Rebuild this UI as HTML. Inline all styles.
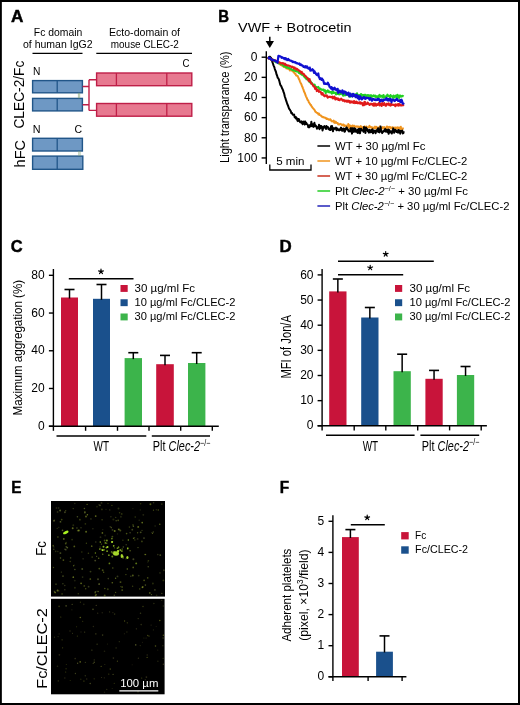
<!DOCTYPE html>
<html><head><meta charset="utf-8"><style>
html,body{margin:0;padding:0;background:#fff;}
svg{display:block;font-family:"Liberation Sans", sans-serif;will-change:transform;}
</style></head><body>
<svg width="520" height="705" viewBox="0 0 520 705">
<rect x="0" y="0" width="520" height="705" fill="#fff"/>
<text x="11" y="22.4" font-size="16.8" text-anchor="start" fill="#000" font-weight="bold" textLength="12.4" lengthAdjust="spacingAndGlyphs" stroke="#000" stroke-width="0.45">A</text>
<text x="218.3" y="22.1" font-size="16.8" text-anchor="start" fill="#000" font-weight="bold" textLength="10.8" lengthAdjust="spacingAndGlyphs" stroke="#000" stroke-width="0.45">B</text>
<text x="10.8" y="251.8" font-size="16.8" text-anchor="start" fill="#000" font-weight="bold" textLength="11.9" lengthAdjust="spacingAndGlyphs" stroke="#000" stroke-width="0.45">C</text>
<text x="279.6" y="251.6" font-size="16.8" text-anchor="start" fill="#000" font-weight="bold" textLength="12.2" lengthAdjust="spacingAndGlyphs" stroke="#000" stroke-width="0.45">D</text>
<text x="11.2" y="492.6" font-size="16.8" text-anchor="start" fill="#000" font-weight="bold" textLength="10.2" lengthAdjust="spacingAndGlyphs" stroke="#000" stroke-width="0.45">E</text>
<text x="279.8" y="493" font-size="16.8" text-anchor="start" fill="#000" font-weight="bold" textLength="9.4" lengthAdjust="spacingAndGlyphs" stroke="#000" stroke-width="0.45">F</text>
<text x="33.8" y="35.7" font-size="10.5" text-anchor="start" fill="#000" textLength="48.5" lengthAdjust="spacingAndGlyphs">Fc domain</text>
<text x="23" y="48.2" font-size="10.5" text-anchor="start" fill="#000" textLength="69.5" lengthAdjust="spacingAndGlyphs">of human IgG2</text>
<line x1="32.5" y1="53.3" x2="82.5" y2="53.3" stroke="#000" stroke-width="1.3"/>
<text x="109" y="36.1" font-size="10.5" text-anchor="start" fill="#000" textLength="71" lengthAdjust="spacingAndGlyphs">Ecto-domain of</text>
<text x="110.8" y="48.1" font-size="10.5" text-anchor="start" fill="#000" textLength="68" lengthAdjust="spacingAndGlyphs">mouse CLEC-2</text>
<line x1="96.3" y1="53.4" x2="192" y2="53.4" stroke="#000" stroke-width="1.3"/>
<text x="182.4" y="67" font-size="10.8" text-anchor="start" fill="#000" textLength="7" lengthAdjust="spacingAndGlyphs">C</text>
<text x="33" y="74.6" font-size="10.8" text-anchor="start" fill="#000" textLength="7.4" lengthAdjust="spacingAndGlyphs">N</text>
<rect x="32.6" y="80.6" width="49.80" height="12.20" fill="#6e98c4" stroke="#215689" stroke-width="1.4"/>
<line x1="57.2" y1="80.6" x2="57.2" y2="92.8" stroke="#215689" stroke-width="1.3"/>
<rect x="32.6" y="98.4" width="49.80" height="12.50" fill="#6e98c4" stroke="#215689" stroke-width="1.4"/>
<line x1="57.2" y1="98.4" x2="57.2" y2="110.9" stroke="#215689" stroke-width="1.3"/>
<line x1="78.4" y1="92.8" x2="78.4" y2="98.3" stroke="#7f9f70" stroke-width="0.6"/>
<line x1="79.7" y1="92.8" x2="79.7" y2="98.3" stroke="#7f9f70" stroke-width="0.6"/>
<path d="M82.6 86.5 H89 M82.6 104.8 H89 M89 79.8 V110.4 M89 79.8 H96 M89 110.4 H96" stroke="#bf1f48" stroke-width="1.4" fill="none"/>
<rect x="96.6" y="73.0" width="95.20" height="12.70" fill="#e77990" stroke="#bf1f48" stroke-width="1.4"/>
<line x1="116.4" y1="73.0" x2="116.4" y2="85.7" stroke="#bf1f48" stroke-width="1.3"/>
<line x1="166.8" y1="73.0" x2="166.8" y2="85.7" stroke="#bf1f48" stroke-width="1.3"/>
<rect x="96.6" y="103.5" width="95.20" height="12.70" fill="#e77990" stroke="#bf1f48" stroke-width="1.4"/>
<line x1="116.4" y1="103.5" x2="116.4" y2="116.2" stroke="#bf1f48" stroke-width="1.3"/>
<line x1="166.8" y1="103.5" x2="166.8" y2="116.2" stroke="#bf1f48" stroke-width="1.3"/>
<text x="32.7" y="132.7" font-size="10.8" text-anchor="start" fill="#000" textLength="7.8" lengthAdjust="spacingAndGlyphs">N</text>
<text x="74.6" y="132.7" font-size="10.8" text-anchor="start" fill="#000" textLength="7.6" lengthAdjust="spacingAndGlyphs">C</text>
<rect x="32.6" y="138.3" width="49.80" height="12.70" fill="#6e98c4" stroke="#215689" stroke-width="1.4"/>
<line x1="57.2" y1="138.3" x2="57.2" y2="151" stroke="#215689" stroke-width="1.3"/>
<rect x="32.6" y="156.1" width="50.20" height="13.20" fill="#6e98c4" stroke="#215689" stroke-width="1.4"/>
<line x1="57.2" y1="156.1" x2="57.2" y2="169.3" stroke="#215689" stroke-width="1.3"/>
<line x1="78.8" y1="151" x2="78.8" y2="156.1" stroke="#7f9f70" stroke-width="0.6"/>
<line x1="80.1" y1="151" x2="80.1" y2="156.1" stroke="#7f9f70" stroke-width="0.6"/>
<text transform="translate(24.3,128.6) rotate(-90)" font-size="14.2" text-anchor="start" fill="#000" textLength="68" lengthAdjust="spacingAndGlyphs">CLEC-2/Fc</text>
<text transform="translate(25,167.4) rotate(-90)" font-size="14.2" text-anchor="start" fill="#000" textLength="27.5" lengthAdjust="spacingAndGlyphs">hFC</text>
<text x="238" y="31.5" font-size="13" text-anchor="start" fill="#000" textLength="113.5" lengthAdjust="spacingAndGlyphs">VWF + Botrocetin</text>
<line x1="269.8" y1="36.8" x2="269.8" y2="42" stroke="#000" stroke-width="1.5"/>
<path d="M265.6 40.9 L274 40.9 L269.8 47.9 Z" fill="#000"/>
<line x1="266.3" y1="51.2" x2="266.3" y2="164" stroke="#000" stroke-width="1.4"/>
<line x1="261.6" y1="57.2" x2="266.3" y2="57.2" stroke="#000" stroke-width="1.4"/>
<text x="257.4" y="61.0" font-size="12" text-anchor="end" fill="#000">0</text>
<line x1="261.6" y1="77.35" x2="266.3" y2="77.35" stroke="#000" stroke-width="1.4"/>
<text x="257.4" y="81.14999999999999" font-size="12" text-anchor="end" fill="#000">20</text>
<line x1="261.6" y1="97.5" x2="266.3" y2="97.5" stroke="#000" stroke-width="1.4"/>
<text x="257.4" y="101.3" font-size="12" text-anchor="end" fill="#000">40</text>
<line x1="261.6" y1="117.65" x2="266.3" y2="117.65" stroke="#000" stroke-width="1.4"/>
<text x="257.4" y="121.45" font-size="12" text-anchor="end" fill="#000">60</text>
<line x1="261.6" y1="137.8" x2="266.3" y2="137.8" stroke="#000" stroke-width="1.4"/>
<text x="257.4" y="141.60000000000002" font-size="12" text-anchor="end" fill="#000">80</text>
<line x1="261.6" y1="157.95" x2="266.3" y2="157.95" stroke="#000" stroke-width="1.4"/>
<text x="257.4" y="161.75" font-size="12" text-anchor="end" fill="#000">100</text>
<text transform="translate(228.5,107.2) rotate(-90)" font-size="12" text-anchor="middle" fill="#000" textLength="111.5" lengthAdjust="spacingAndGlyphs">Light transparance (%)</text>
<path d="M269.8 164.5 V170 H311 V164.5" stroke="#000" stroke-width="1.3" fill="none"/>
<text x="276.2" y="164.6" font-size="11.6" text-anchor="start" fill="#000" textLength="28.3" lengthAdjust="spacingAndGlyphs">5 min</text>
<polyline points="267.80,58.40 268.32,57.66 268.85,58.14 269.38,58.23 269.90,58.60 270.43,58.09 270.95,58.55 271.48,58.61 272.00,58.68 272.50,59.07 273.00,59.48 273.50,59.87 274.00,60.00 274.50,60.72 275.00,60.74 275.50,60.27 276.00,61.90 276.50,61.75 277.00,61.96 277.50,62.58 278.02,62.91 278.54,63.21 279.05,63.28 279.57,63.94 280.09,63.77 280.61,65.01 281.13,64.54 281.65,65.20 282.16,65.61 282.68,66.02 283.20,66.23 283.71,66.71 284.21,65.75 284.72,67.04 285.22,67.29 285.73,67.47 286.23,68.33 286.74,67.85 287.24,68.38 287.75,68.07 288.25,69.03 288.76,68.72 289.26,69.01 289.77,70.46 290.27,70.23 290.78,70.28 291.28,70.61 291.79,70.39 292.29,70.77 292.80,71.49 293.34,71.30 293.89,72.60 294.43,72.57 294.98,73.71 295.52,73.91 296.07,75.36 296.61,75.71 297.16,75.83 297.70,75.99 298.26,77.48 298.82,78.86 299.38,79.74 299.94,81.29 300.50,82.66 301.00,83.54 301.50,84.63 302.00,86.20 302.50,87.07 303.00,88.62 303.50,89.63 304.00,91.59 304.50,92.38 305.00,93.50 305.50,95.22 306.00,96.37 306.56,97.41 307.12,98.80 307.68,100.21 308.24,100.46 308.80,102.25 309.36,103.02 309.91,103.82 310.47,104.91 311.03,105.06 311.59,106.46 312.14,106.99 312.70,107.90 313.24,108.44 313.79,109.05 314.33,109.63 314.87,110.56 315.41,111.72 315.96,112.04 316.50,112.63 317.00,112.88 317.50,112.91 318.00,113.58 318.50,114.39 319.00,113.66 319.50,114.70 320.00,115.12 320.50,115.18 321.00,115.68 321.50,116.23 322.00,116.87 322.50,116.85 323.00,117.31 323.50,117.09 324.00,117.62 324.51,117.55 325.02,117.82 325.53,117.68 326.04,118.42 326.55,119.01 327.05,118.45 327.56,118.86 328.07,119.26 328.58,119.16 329.09,119.86 329.60,119.71 330.11,119.17 330.61,119.48 331.12,120.71 331.62,120.91 332.13,121.43 332.63,121.18 333.14,121.39 333.64,120.54 334.15,122.63 334.65,121.41 335.16,122.92 335.66,121.73 336.17,122.28 336.67,123.07 337.18,122.91 337.68,122.96 338.19,124.33 338.69,124.41 339.20,124.46 339.71,124.04 340.21,123.80 340.72,124.14 341.22,124.21 341.73,124.66 342.23,125.32 342.74,124.76 343.24,124.43 343.75,124.65 344.25,126.09 344.76,125.40 345.26,125.55 345.77,125.68 346.27,126.01 346.78,125.79 347.28,126.62 347.79,126.46 348.29,124.00 348.80,126.00 349.31,128.21 349.82,125.27 350.33,126.29 350.84,127.00 351.35,126.28 351.86,127.26 352.37,125.46 352.88,125.51 353.39,126.30 353.91,125.95 354.42,125.75 354.93,126.94 355.44,126.77 355.95,126.62 356.46,126.37 356.97,126.87 357.48,126.64 357.99,126.25 358.50,127.16 359.00,127.09 359.50,126.91 360.00,127.37 360.50,126.13 361.00,126.83 361.50,126.59 362.00,127.92 362.50,127.37 363.00,128.52 363.50,128.16 364.00,126.83 364.50,126.35 365.00,127.48 365.50,126.97 366.00,127.08 366.50,126.48 367.00,127.67 367.50,127.40 368.00,127.58 368.50,127.53 369.01,126.70 369.51,125.77 370.02,127.17 370.52,126.93 371.03,127.01 371.53,128.07 372.03,127.34 372.54,128.48 373.04,127.57 373.55,127.94 374.05,127.82 374.55,128.05 375.06,126.62 375.56,128.27 376.07,127.60 376.57,126.86 377.08,127.98 377.58,127.81 378.08,128.48 378.59,128.11 379.09,127.87 379.60,126.48 380.10,128.81 380.61,128.69 381.11,128.21 381.61,128.00 382.12,128.55 382.62,127.10 383.13,128.21 383.63,127.75 384.14,127.05 384.64,128.02 385.14,128.03 385.65,128.99 386.15,128.47 386.66,126.70 387.16,126.46 387.66,127.79 388.17,127.72 388.67,127.22 389.18,126.87 389.68,127.77 390.19,127.11 390.69,127.45 391.19,128.55 391.70,128.13 392.20,127.45 392.71,127.20 393.21,127.87 393.72,129.23 394.22,127.68 394.72,129.26 395.23,127.51 395.73,127.93 396.24,128.58 396.74,127.56 397.25,128.16 397.75,127.18 398.25,128.61 398.76,128.97 399.26,127.72 399.77,128.32 400.27,127.92 400.77,126.70 401.28,130.15 401.78,128.68 402.29,128.84 402.79,128.54 403.30,128.41 403.80,128.30" fill="none" stroke="#f0941e" stroke-width="2.0" stroke-linejoin="round"/>
<polyline points="267.80,58.22 268.37,58.05 268.93,57.26 269.50,56.69 270.00,56.81 270.50,57.51 271.20,58.29 271.80,59.80 272.40,62.13 273.00,63.78 273.60,65.62 274.18,66.75 274.76,68.84 275.34,70.53 275.92,71.68 276.50,74.22 277.08,75.49 277.66,77.68 278.24,78.16 278.82,79.38 279.40,81.29 280.00,83.88 280.58,85.32 281.16,85.97 281.74,87.37 282.32,88.85 282.90,89.88 283.53,91.88 284.17,93.63 284.80,96.48 285.43,98.26 286.07,100.45 286.70,102.19 287.28,104.08 287.86,105.16 288.44,106.81 289.02,108.56 289.60,109.27 290.18,110.37 290.76,111.09 291.34,113.28 291.92,112.86 292.50,114.11 293.04,114.80 293.59,114.88 294.13,114.64 294.67,117.17 295.21,116.81 295.76,118.39 296.30,117.41 296.84,118.54 297.39,120.47 297.93,121.09 298.48,118.95 299.02,119.31 299.57,120.99 300.11,122.21 300.66,122.05 301.20,122.63 301.71,121.39 302.21,123.36 302.72,124.19 303.23,122.55 303.73,121.51 304.24,122.51 304.75,124.63 305.25,121.58 305.76,123.92 306.27,122.89 306.77,124.24 307.28,124.27 307.79,124.84 308.29,127.18 308.80,125.81 309.31,127.24 309.82,125.22 310.33,124.84 310.84,126.19 311.35,121.64 311.86,125.81 312.37,126.21 312.88,124.29 313.39,126.87 313.91,125.49 314.42,122.85 314.93,126.22 315.44,125.22 315.95,125.99 316.46,126.64 316.97,128.78 317.48,127.23 317.99,127.15 318.50,127.86 319.00,124.72 319.50,129.19 320.00,125.87 320.50,128.11 321.00,125.88 321.50,126.14 322.00,127.03 322.50,130.40 323.00,128.70 323.50,126.86 324.00,127.37 324.50,126.15 325.00,127.82 325.50,127.08 326.00,129.00 326.50,126.03 327.00,127.55 327.50,126.86 328.00,127.08 328.50,129.20 329.00,128.40 329.50,129.11 330.00,130.02 330.50,130.00 331.00,126.38 331.50,129.19 332.00,125.89 332.50,128.39 333.00,131.30 333.50,128.28 334.00,128.06 334.50,128.88 335.00,128.69 335.50,128.74 336.00,127.64 336.50,130.35 337.00,130.10 337.50,128.54 338.00,129.34 338.50,129.88 339.00,130.46 339.50,129.57 340.00,130.04 340.50,128.69 341.00,127.56 341.50,128.43 342.00,130.66 342.50,130.63 343.00,129.47 343.50,128.47 344.00,129.77 344.50,131.78 345.00,131.36 345.50,128.43 346.00,129.38 346.50,127.37 347.00,127.85 347.50,129.79 348.00,129.58 348.50,130.97 349.00,131.43 349.50,130.83 350.00,131.55 350.50,128.87 351.00,128.05 351.50,130.44 352.00,133.62 352.50,130.28 353.00,128.11 353.50,130.16 354.00,131.90 354.50,128.36 355.00,131.04 355.50,129.02 356.00,131.77 356.50,131.09 357.00,130.42 357.50,132.90 358.00,129.43 358.50,129.05 359.00,132.76 359.50,128.83 360.00,133.31 360.50,130.09 361.00,128.66 361.50,130.19 362.00,130.41 362.50,130.53 363.00,129.99 363.50,131.86 364.00,126.95 364.50,129.53 365.00,129.98 365.50,133.02 366.00,127.52 366.50,129.94 367.00,128.80 367.50,129.52 368.00,131.43 368.50,131.12 369.00,132.64 369.50,129.71 370.00,130.99 370.50,132.31 371.01,131.93 371.51,130.14 372.02,132.27 372.52,129.31 373.03,133.27 373.53,130.89 374.04,130.51 374.54,131.07 375.04,131.92 375.55,133.22 376.05,130.50 376.56,130.18 377.06,131.58 377.57,129.47 378.07,128.28 378.58,131.96 379.08,130.21 379.59,132.40 380.09,129.29 380.59,126.59 381.10,131.21 381.60,131.03 382.11,133.14 382.61,131.59 383.12,131.28 383.62,131.69 384.13,130.32 384.63,130.97 385.13,128.91 385.64,131.63 386.14,129.72 386.65,130.25 387.15,131.92 387.66,132.24 388.16,129.46 388.67,133.84 389.17,130.08 389.67,132.16 390.18,132.34 390.68,131.29 391.19,131.23 391.69,133.59 392.20,132.28 392.70,131.65 393.21,128.37 393.71,129.94 394.21,132.72 394.72,131.32 395.22,129.66 395.73,130.13 396.23,130.62 396.74,132.07 397.24,131.64 397.75,132.54 398.25,129.92 398.76,132.54 399.26,130.39 399.76,130.69 400.27,133.65 400.77,131.25 401.28,130.95 401.78,130.86 402.29,130.62 402.79,133.44 403.30,133.19 403.80,131.20" fill="none" stroke="#000" stroke-width="2.0" stroke-linejoin="round"/>
<polyline points="267.80,57.71 268.32,58.10 268.85,58.09 269.38,58.59 269.90,59.03 270.43,59.14 270.95,59.74 271.48,59.27 272.00,59.82 272.50,59.83 273.00,60.06 273.50,60.48 274.00,60.85 274.50,61.15 275.00,61.43 275.50,62.19 276.00,62.02 276.50,61.53 277.00,62.32 277.50,62.31 278.00,62.60 278.50,63.40 279.00,63.19 279.50,62.92 280.00,63.86 280.50,63.93 281.00,63.91 281.50,64.24 282.00,64.58 282.50,65.02 283.00,65.15 283.50,65.55 284.00,66.33 284.50,65.79 285.00,66.04 285.50,66.46 286.00,67.12 286.50,66.83 287.00,67.73 287.50,67.16 288.00,67.49 288.51,67.99 289.02,67.96 289.53,68.25 290.04,68.78 290.55,69.07 291.06,69.10 291.57,69.19 292.08,69.89 292.59,69.82 293.11,69.83 293.62,70.48 294.13,70.06 294.64,70.59 295.15,70.95 295.66,70.95 296.17,71.00 296.68,71.48 297.19,71.43 297.70,71.62 298.23,71.84 298.77,72.88 299.30,72.67 299.83,73.52 300.37,73.64 300.90,73.78 301.43,74.44 301.97,74.65 302.50,74.95 303.00,74.81 303.50,75.78 304.00,76.54 304.50,76.81 305.00,77.46 305.50,78.12 306.00,78.08 306.50,79.23 307.00,78.03 307.50,79.06 308.00,78.34 308.50,80.56 309.00,80.72 309.50,82.12 310.00,81.55 310.50,81.15 311.00,83.56 311.50,82.57 312.00,83.14 312.53,84.18 313.06,85.06 313.59,84.73 314.11,85.56 314.64,84.58 315.17,87.39 315.70,86.55 316.20,86.85 316.70,87.35 317.20,87.22 317.74,87.53 318.29,86.97 318.83,87.87 319.37,88.59 319.91,89.36 320.46,88.72 321.00,89.17 321.52,89.52 322.04,89.86 322.56,89.73 323.08,89.51 323.60,89.46 324.12,90.92 324.64,90.41 325.16,90.34 325.68,93.26 326.20,91.34 326.72,91.47 327.24,91.06 327.76,90.28 328.28,92.16 328.80,91.33 329.31,91.54 329.83,92.42 330.34,92.51 330.85,91.99 331.37,91.91 331.88,93.68 332.39,92.56 332.91,91.38 333.42,92.90 333.93,92.52 334.45,92.53 334.96,93.15 335.47,92.89 335.99,94.40 336.50,93.06 337.00,93.19 337.50,94.01 338.00,92.71 338.50,94.06 339.00,93.29 339.50,94.38 340.00,92.84 340.50,93.94 341.00,92.42 341.50,93.43 342.00,93.88 342.50,94.35 343.00,95.63 343.50,95.61 344.00,93.15 344.50,93.71 345.00,95.40 345.50,94.78 346.00,93.36 346.50,94.87 347.00,93.61 347.50,93.85 348.00,93.56 348.50,94.39 349.00,96.42 349.50,94.95 350.00,94.59 350.50,96.72 351.00,94.36 351.50,94.64 352.00,94.58 352.50,95.15 353.00,94.60 353.50,96.04 354.00,94.67 354.50,95.38 355.00,95.14 355.50,94.30 356.00,94.23 356.50,95.00 357.00,93.23 357.50,95.11 358.00,95.19 358.50,95.26 359.00,95.12 359.50,95.49 360.00,94.96 360.50,95.77 361.00,93.99 361.50,96.04 362.00,94.64 362.50,95.76 363.00,95.03 363.50,95.11 364.00,94.87 364.50,96.62 365.00,94.73 365.50,94.69 366.00,95.87 366.50,95.96 367.00,95.83 367.50,95.08 368.00,95.38 368.50,96.67 369.00,95.18 369.50,96.54 370.00,96.68 370.50,96.21 371.00,95.14 371.50,97.64 372.01,96.22 372.51,96.29 373.01,95.84 373.51,95.39 374.01,95.94 374.51,96.31 375.01,95.49 375.52,96.26 376.02,97.09 376.52,96.53 377.02,96.11 377.52,97.03 378.02,96.93 378.53,96.92 379.03,95.57 379.53,94.77 380.03,96.86 380.53,96.27 381.03,95.94 381.53,96.63 382.04,95.88 382.54,95.76 383.04,97.70 383.54,95.00 384.04,96.94 384.54,97.08 385.04,97.69 385.55,96.49 386.05,96.70 386.55,95.57 387.05,96.33 387.55,94.64 388.05,95.86 388.56,96.30 389.06,96.24 389.56,95.95 390.06,97.27 390.56,95.08 391.06,96.46 391.56,96.04 392.07,96.39 392.57,96.41 393.07,97.93 393.57,95.53 394.07,97.46 394.57,97.51 395.07,96.30 395.58,95.92 396.08,95.43 396.58,95.73 397.08,98.05 397.58,94.70 398.08,96.80 398.59,95.89 399.09,97.96 399.59,96.71 400.09,95.39 400.59,96.05 401.09,96.63 401.59,96.58 402.10,95.73 402.60,96.26 403.10,96.13 403.60,96.50" fill="none" stroke="#22d022" stroke-width="2.1" stroke-linejoin="round"/>
<polyline points="267.80,57.73 268.32,58.30 268.85,57.87 269.38,58.67 269.90,58.52 270.43,58.75 270.95,59.62 271.48,59.32 272.00,59.49 272.50,59.95 273.00,60.29 273.50,60.17 274.00,60.59 274.50,60.34 275.00,60.75 275.50,60.96 276.00,60.92 276.50,61.09 277.00,61.28 277.50,61.93 278.00,62.11 278.50,62.23 279.00,62.51 279.50,62.25 280.00,62.79 280.50,63.04 281.00,63.36 281.50,63.04 282.00,63.34 282.50,63.01 283.00,63.63 283.50,63.28 284.00,63.68 284.50,64.60 285.00,63.77 285.50,64.83 286.00,64.85 286.50,64.82 287.00,65.21 287.50,65.40 288.00,65.71 288.51,65.55 289.02,65.66 289.53,65.88 290.04,65.99 290.55,66.49 291.06,66.49 291.57,67.27 292.08,66.61 292.59,67.06 293.11,67.32 293.62,67.20 294.13,68.62 294.64,67.55 295.15,68.41 295.66,68.56 296.17,69.43 296.68,68.56 297.19,69.70 297.70,69.38 298.20,69.93 298.70,70.15 299.20,70.92 299.70,70.77 300.20,71.46 300.70,71.97 301.20,72.85 301.70,71.79 302.20,73.53 302.70,73.72 303.20,73.56 303.70,74.24 304.20,74.31 304.74,75.85 305.29,75.90 305.83,76.38 306.37,77.02 306.91,77.69 307.46,78.36 308.00,78.66 308.54,80.81 309.09,79.41 309.63,79.12 310.17,81.66 310.71,82.30 311.26,83.26 311.80,83.58 312.36,84.27 312.91,85.22 313.47,86.29 314.03,86.04 314.59,86.74 315.14,88.96 315.70,88.67 316.24,88.16 316.79,91.09 317.33,90.54 317.87,90.09 318.41,90.19 318.96,91.87 319.50,91.54 320.02,91.69 320.54,91.83 321.07,92.80 321.59,94.42 322.11,93.52 322.63,93.04 323.16,95.07 323.68,94.92 324.20,95.88 324.71,96.35 325.22,95.45 325.73,95.66 326.23,95.93 326.74,95.25 327.25,96.89 327.76,97.64 328.27,96.87 328.77,96.74 329.28,96.91 329.79,96.68 330.30,96.86 330.81,97.29 331.33,97.04 331.84,97.47 332.35,96.66 332.87,98.31 333.38,98.18 333.89,97.32 334.41,96.51 334.92,98.45 335.43,99.45 335.95,98.09 336.46,98.39 336.97,98.43 337.49,99.52 338.00,98.37 338.53,100.01 339.06,99.10 339.59,100.20 340.11,99.61 340.64,99.52 341.17,98.65 341.70,99.40 342.23,99.86 342.76,100.72 343.29,100.51 343.81,99.88 344.34,100.88 344.87,101.47 345.40,100.68 345.91,100.55 346.41,100.68 346.92,101.75 347.43,101.63 347.93,100.56 348.44,101.70 348.95,101.12 349.45,101.00 349.96,102.69 350.47,102.46 350.97,101.32 351.48,102.06 351.99,102.50 352.49,101.69 353.00,102.20 353.52,102.89 354.04,100.98 354.56,102.72 355.08,103.10 355.60,102.97 356.12,101.55 356.64,102.93 357.16,102.04 357.68,103.24 358.20,103.32 358.72,103.06 359.24,102.33 359.76,102.52 360.28,103.73 360.80,102.38 361.31,103.57 361.83,103.66 362.34,103.10 362.85,105.31 363.37,103.52 363.88,105.26 364.39,102.00 364.91,101.89 365.42,104.55 365.93,104.34 366.45,103.66 366.96,103.94 367.47,102.53 367.99,103.62 368.50,103.37 369.00,104.03 369.51,104.93 370.01,104.27 370.52,104.53 371.02,103.68 371.53,103.90 372.03,104.35 372.53,104.04 373.04,105.29 373.54,103.59 374.05,105.81 374.55,103.52 375.06,105.16 375.56,103.70 376.06,105.65 376.57,104.45 377.07,104.66 377.58,104.95 378.08,103.85 378.59,103.54 379.09,102.76 379.59,105.36 380.10,103.84 380.60,103.93 381.11,104.39 381.61,106.01 382.12,103.05 382.62,104.64 383.12,104.13 383.63,104.88 384.13,103.03 384.64,104.16 385.14,105.16 385.65,105.74 386.15,105.78 386.65,103.82 387.16,104.56 387.66,104.44 388.17,103.43 388.67,103.39 389.18,105.16 389.68,104.76 390.18,104.45 390.69,105.55 391.19,103.78 391.70,105.02 392.20,104.61 392.71,104.56 393.21,105.01 393.71,104.77 394.22,104.85 394.72,104.86 395.23,106.21 395.73,104.41 396.24,105.48 396.74,105.17 397.24,104.41 397.75,105.33 398.25,104.02 398.76,105.64 399.26,104.08 399.77,104.34 400.27,105.00 400.77,105.41 401.28,105.48 401.78,105.48 402.29,104.61 402.79,104.02 403.30,105.23 403.80,104.80" fill="none" stroke="#e01a1a" stroke-width="2.1" stroke-linejoin="round"/>
<polyline points="267.80,57.29 268.32,57.53 268.84,58.40 269.37,57.60 269.89,58.58 270.41,58.08 270.93,59.49 271.46,59.40 271.98,60.04 272.50,59.62 273.00,60.16 273.50,60.14 274.00,60.20 274.50,60.73 275.00,60.46 275.50,61.00 276.00,61.58 276.50,61.58 277.00,61.64 277.50,62.77 278.40,55.82 278.93,55.81 279.47,56.28 280.00,56.25 280.53,56.51 281.07,56.73 281.60,57.78 282.13,57.29 282.67,57.55 283.20,57.94 283.71,58.61 284.21,58.02 284.72,58.08 285.22,59.37 285.73,58.19 286.23,58.77 286.74,59.33 287.24,60.10 287.75,59.17 288.25,58.85 288.76,60.13 289.26,59.92 289.77,60.16 290.27,60.66 290.78,60.78 291.28,61.00 291.79,60.95 292.29,61.75 292.80,62.03 293.31,61.72 293.82,61.75 294.33,62.37 294.84,62.49 295.35,62.16 295.86,62.57 296.37,63.30 296.88,63.11 297.39,63.23 297.91,63.63 298.42,63.75 298.93,63.96 299.44,63.49 299.95,64.99 300.46,64.65 300.97,64.45 301.48,65.37 301.99,65.32 302.50,65.41 303.02,66.07 303.54,66.85 304.05,66.31 304.57,67.03 305.09,67.55 305.61,66.19 306.13,66.66 306.65,67.56 307.16,66.43 307.68,67.43 308.20,68.54 308.73,68.74 309.25,68.80 309.78,67.61 310.31,70.60 310.84,69.79 311.36,70.27 311.89,70.43 312.42,69.23 312.95,69.73 313.47,70.20 314.00,72.81 314.53,71.37 315.07,72.40 315.60,72.98 316.13,74.22 316.67,74.76 317.20,75.17 317.73,74.48 318.27,73.46 318.80,76.87 319.33,77.55 319.87,79.01 320.40,78.41 320.93,78.44 321.47,79.85 322.00,78.57 322.53,79.52 323.07,80.04 323.60,81.69 324.13,83.80 324.67,83.10 325.20,83.93 325.73,83.51 326.27,83.95 326.80,83.70 327.33,84.25 327.87,82.71 328.40,84.22 328.93,84.54 329.47,86.85 330.00,87.10 330.51,87.81 331.03,88.47 331.54,87.09 332.05,88.60 332.57,89.69 333.08,88.21 333.59,89.48 334.11,88.64 334.62,87.63 335.13,89.47 335.65,88.91 336.16,90.04 336.67,89.81 337.19,90.80 337.70,88.88 338.21,92.83 338.73,92.33 339.24,90.94 339.75,90.60 340.27,91.57 340.78,92.33 341.29,92.25 341.81,92.39 342.32,90.41 342.83,91.32 343.35,93.70 343.86,92.86 344.37,91.42 344.89,92.17 345.40,91.80 345.91,92.33 346.41,94.47 346.92,93.36 347.43,94.73 347.93,94.04 348.44,92.65 348.95,93.58 349.45,96.42 349.96,93.78 350.47,93.67 350.97,95.92 351.48,95.02 351.99,95.09 352.49,96.59 353.00,93.79 353.52,95.94 354.04,94.74 354.56,94.57 355.08,95.27 355.60,97.22 356.12,96.19 356.64,94.79 357.16,95.61 357.68,98.18 358.20,97.87 358.72,96.08 359.24,99.47 359.76,97.06 360.28,96.45 360.80,97.57 361.31,98.66 361.83,99.38 362.34,98.95 362.85,97.71 363.37,97.68 363.88,96.96 364.39,98.33 364.91,97.95 365.42,98.83 365.93,97.53 366.45,98.32 366.96,98.09 367.47,97.89 367.99,98.01 368.50,98.26 369.00,98.14 369.50,99.77 370.00,99.36 370.50,98.08 371.00,99.79 371.50,99.61 372.00,100.71 372.50,99.21 373.00,99.23 373.50,98.81 374.00,99.58 374.50,99.95 375.00,99.68 375.50,99.31 376.00,100.08 376.50,99.67 377.00,99.84 377.50,98.78 378.00,99.85 378.50,98.77 379.00,98.93 379.50,99.88 380.00,101.70 380.50,100.70 381.00,99.81 381.50,99.67 382.00,100.76 382.50,101.15 383.00,101.03 383.50,99.76 384.00,100.13 384.50,99.67 385.00,99.74 385.50,99.22 386.00,99.79 386.50,98.05 387.00,98.93 387.50,100.44 388.00,99.20 388.50,100.56 389.00,98.88 389.50,99.74 390.00,100.46 390.50,99.14 391.00,99.45 391.50,102.39 392.00,99.50 392.50,99.49 393.00,99.62 393.50,100.19 394.00,100.14 394.50,101.08 395.00,100.91 395.50,99.82 396.00,99.87 396.50,98.91 397.00,98.84 397.50,99.55 398.00,100.91 398.50,100.36 399.00,100.99 399.50,101.13 400.00,100.12 400.50,102.22 401.00,99.81 401.50,99.72 402.07,100.95 402.65,103.45 403.23,103.32 403.80,104.50" fill="none" stroke="#1010d0" stroke-width="2.2" stroke-linejoin="round"/>
<line x1="317.4" y1="146.0" x2="330.1" y2="146.0" stroke="#000" stroke-width="1.5"/>
<text x="335" y="149.6" font-size="11" text-anchor="start" fill="#000" textLength="90.5" lengthAdjust="spacingAndGlyphs">WT + 30 µg/ml Fc</text>
<line x1="317.4" y1="161.0" x2="330.1" y2="161.0" stroke="#f0941e" stroke-width="1.5"/>
<text x="335" y="164.6" font-size="11" text-anchor="start" fill="#000" textLength="132.3" lengthAdjust="spacingAndGlyphs">WT + 10 µg/ml Fc/CLEC-2</text>
<line x1="317.4" y1="176.0" x2="330.1" y2="176.0" stroke="#c8301e" stroke-width="1.5"/>
<text x="335" y="179.6" font-size="11" text-anchor="start" fill="#000" textLength="132.3" lengthAdjust="spacingAndGlyphs">WT + 30 µg/ml Fc/CLEC-2</text>
<line x1="317.4" y1="191.0" x2="330.1" y2="191.0" stroke="#22cc22" stroke-width="1.5"/>
<text x="335" y="194.6" font-size="11" text-anchor="start" fill="#000" textLength="133" lengthAdjust="spacingAndGlyphs">Plt <tspan font-style="italic">Clec-2</tspan><tspan font-size="7" dy="-4">−/−</tspan><tspan dy="4"> + 30 µg/ml Fc</tspan></text>
<line x1="317.4" y1="206.0" x2="330.1" y2="206.0" stroke="#2424b8" stroke-width="1.5"/>
<text x="335" y="209.6" font-size="11" text-anchor="start" fill="#000" textLength="174.5" lengthAdjust="spacingAndGlyphs">Plt <tspan font-style="italic">Clec-2</tspan><tspan font-size="7" dy="-4">−/−</tspan><tspan dy="4"> + 30 µg/ml Fc/CLEC-2</tspan></text>
<line x1="53.4" y1="269" x2="53.4" y2="430.8" stroke="#000" stroke-width="1.4"/>
<line x1="48.9" y1="426.2" x2="53.4" y2="426.2" stroke="#000" stroke-width="1.4"/>
<text x="44.7" y="429.8" font-size="12" text-anchor="end" fill="#000">0</text>
<line x1="48.9" y1="388.48" x2="53.4" y2="388.48" stroke="#000" stroke-width="1.4"/>
<text x="44.7" y="392.08000000000004" font-size="12" text-anchor="end" fill="#000">20</text>
<line x1="48.9" y1="350.76" x2="53.4" y2="350.76" stroke="#000" stroke-width="1.4"/>
<text x="44.7" y="354.36" font-size="12" text-anchor="end" fill="#000">40</text>
<line x1="48.9" y1="313.03999999999996" x2="53.4" y2="313.03999999999996" stroke="#000" stroke-width="1.4"/>
<text x="44.7" y="316.64" font-size="12" text-anchor="end" fill="#000">60</text>
<line x1="48.9" y1="275.32" x2="53.4" y2="275.32" stroke="#000" stroke-width="1.4"/>
<text x="44.7" y="278.92" font-size="12" text-anchor="end" fill="#000">80</text>
<rect x="61" y="297.5" width="17.00" height="128.70" fill="#c8143a"/>
<line x1="69.5" y1="289.5" x2="69.5" y2="298.5" stroke="#000" stroke-width="1.5"/>
<line x1="64.5" y1="289.5" x2="74.5" y2="289.5" stroke="#000" stroke-width="1.6"/>
<rect x="93" y="298.8" width="17.00" height="127.40" fill="#1a508c"/>
<line x1="101.5" y1="284.5" x2="101.5" y2="299.8" stroke="#000" stroke-width="1.5"/>
<line x1="96.5" y1="284.5" x2="106.5" y2="284.5" stroke="#000" stroke-width="1.6"/>
<rect x="124.6" y="358.1" width="17.40" height="68.10" fill="#3cb44b"/>
<line x1="133.3" y1="352.7" x2="133.3" y2="359.1" stroke="#000" stroke-width="1.5"/>
<line x1="128.3" y1="352.7" x2="138.3" y2="352.7" stroke="#000" stroke-width="1.6"/>
<rect x="156.2" y="364.2" width="17.60" height="62.00" fill="#c8143a"/>
<line x1="165.0" y1="355.4" x2="165.0" y2="365.2" stroke="#000" stroke-width="1.5"/>
<line x1="160.0" y1="355.4" x2="170.0" y2="355.4" stroke="#000" stroke-width="1.6"/>
<rect x="188" y="363" width="17.40" height="63.20" fill="#3cb44b"/>
<line x1="196.7" y1="352.7" x2="196.7" y2="364" stroke="#000" stroke-width="1.5"/>
<line x1="191.7" y1="352.7" x2="201.7" y2="352.7" stroke="#000" stroke-width="1.6"/>
<line x1="48.9" y1="426.2" x2="218.8" y2="426.2" stroke="#000" stroke-width="1.4"/>
<line x1="85.6" y1="426.2" x2="85.6" y2="430.8" stroke="#000" stroke-width="1.4"/>
<line x1="117.5" y1="426.2" x2="117.5" y2="430.8" stroke="#000" stroke-width="1.4"/>
<line x1="149" y1="426.2" x2="149" y2="430.8" stroke="#000" stroke-width="1.4"/>
<line x1="180.7" y1="426.2" x2="180.7" y2="430.8" stroke="#000" stroke-width="1.4"/>
<line x1="212.3" y1="426.2" x2="212.3" y2="430.8" stroke="#000" stroke-width="1.4"/>
<line x1="68.8" y1="278.7" x2="133.5" y2="278.7" stroke="#000" stroke-width="1.5"/>
<path d="M101.00 271.60 L101.00 269.10 M101.00 271.60 L103.38 270.83 M101.00 271.60 L102.47 273.62 M101.00 271.60 L99.53 273.62 M101.00 271.60 L98.62 270.83 " stroke="#000" stroke-width="1.15" stroke-linecap="round" fill="none"/>
<circle cx="101" cy="271.59999999999997" r="0.95" fill="#000"/>
<rect x="120.5" y="285.0" width="7.20" height="6.90" fill="#c8143a"/>
<text x="134.5" y="291.6" font-size="11.2" text-anchor="start" fill="#000" textLength="60.5" lengthAdjust="spacingAndGlyphs">30 µg/ml Fc</text>
<rect x="120.5" y="299.25" width="7.20" height="6.90" fill="#1a508c"/>
<text x="134.5" y="305.85" font-size="11.2" text-anchor="start" fill="#000" textLength="101" lengthAdjust="spacingAndGlyphs">10 µg/ml Fc/CLEC-2</text>
<rect x="120.5" y="313.5" width="7.20" height="6.90" fill="#3cb44b"/>
<text x="134.5" y="320.1" font-size="11.2" text-anchor="start" fill="#000" textLength="101" lengthAdjust="spacingAndGlyphs">30 µg/ml Fc/CLEC-2</text>
<line x1="56.5" y1="435.9" x2="146.3" y2="435.9" stroke="#000" stroke-width="1.5"/>
<line x1="151.8" y1="435.9" x2="210" y2="435.9" stroke="#000" stroke-width="1.5"/>
<text x="93.6" y="451.1" font-size="14" text-anchor="start" fill="#000" textLength="15.4" lengthAdjust="spacingAndGlyphs">WT</text>
<text x="152.8" y="451.1" font-size="13.8" text-anchor="start" fill="#000" textLength="57.5" lengthAdjust="spacingAndGlyphs">Plt <tspan font-style="italic">Clec-2</tspan><tspan font-size="9" dy="-5.5">−/−</tspan></text>
<text transform="translate(22.3,347.7) rotate(-90)" font-size="13.5" text-anchor="middle" fill="#000" textLength="135.5" lengthAdjust="spacingAndGlyphs">Maximum aggregation (%)</text>
<line x1="322.1" y1="269" x2="322.1" y2="430.40000000000003" stroke="#000" stroke-width="1.4"/>
<line x1="317.6" y1="425.8" x2="322.1" y2="425.8" stroke="#000" stroke-width="1.4"/>
<text x="313.5" y="429.40000000000003" font-size="12" text-anchor="end" fill="#000">0</text>
<line x1="317.6" y1="400.65000000000003" x2="322.1" y2="400.65000000000003" stroke="#000" stroke-width="1.4"/>
<text x="313.5" y="404.25000000000006" font-size="12" text-anchor="end" fill="#000">10</text>
<line x1="317.6" y1="375.5" x2="322.1" y2="375.5" stroke="#000" stroke-width="1.4"/>
<text x="313.5" y="379.1" font-size="12" text-anchor="end" fill="#000">20</text>
<line x1="317.6" y1="350.35" x2="322.1" y2="350.35" stroke="#000" stroke-width="1.4"/>
<text x="313.5" y="353.95000000000005" font-size="12" text-anchor="end" fill="#000">30</text>
<line x1="317.6" y1="325.2" x2="322.1" y2="325.2" stroke="#000" stroke-width="1.4"/>
<text x="313.5" y="328.8" font-size="12" text-anchor="end" fill="#000">40</text>
<line x1="317.6" y1="300.05" x2="322.1" y2="300.05" stroke="#000" stroke-width="1.4"/>
<text x="313.5" y="303.65000000000003" font-size="12" text-anchor="end" fill="#000">50</text>
<line x1="317.6" y1="274.9" x2="322.1" y2="274.9" stroke="#000" stroke-width="1.4"/>
<text x="313.5" y="278.5" font-size="12" text-anchor="end" fill="#000">60</text>
<rect x="329.2" y="291.4" width="17.30" height="134.40" fill="#c8143a"/>
<line x1="337.85" y1="279" x2="337.85" y2="292.4" stroke="#000" stroke-width="1.5"/>
<line x1="332.85" y1="279" x2="342.85" y2="279" stroke="#000" stroke-width="1.6"/>
<rect x="361.2" y="317.5" width="17.30" height="108.30" fill="#1a508c"/>
<line x1="369.85" y1="307.5" x2="369.85" y2="318.5" stroke="#000" stroke-width="1.5"/>
<line x1="364.85" y1="307.5" x2="374.85" y2="307.5" stroke="#000" stroke-width="1.6"/>
<rect x="393.5" y="371.2" width="17.30" height="54.60" fill="#3cb44b"/>
<line x1="402.15" y1="354.2" x2="402.15" y2="372.2" stroke="#000" stroke-width="1.5"/>
<line x1="397.15" y1="354.2" x2="407.15" y2="354.2" stroke="#000" stroke-width="1.6"/>
<rect x="425.4" y="378.8" width="17.30" height="47.00" fill="#c8143a"/>
<line x1="434.04999999999995" y1="370.4" x2="434.04999999999995" y2="379.8" stroke="#000" stroke-width="1.5"/>
<line x1="429.04999999999995" y1="370.4" x2="439.04999999999995" y2="370.4" stroke="#000" stroke-width="1.6"/>
<rect x="456.9" y="375" width="17.30" height="50.80" fill="#3cb44b"/>
<line x1="465.54999999999995" y1="366.5" x2="465.54999999999995" y2="376" stroke="#000" stroke-width="1.5"/>
<line x1="460.54999999999995" y1="366.5" x2="470.54999999999995" y2="366.5" stroke="#000" stroke-width="1.6"/>
<line x1="317.6" y1="425.8" x2="486.9" y2="425.8" stroke="#000" stroke-width="1.4"/>
<line x1="354.2" y1="425.8" x2="354.2" y2="430.40000000000003" stroke="#000" stroke-width="1.4"/>
<line x1="385.8" y1="425.8" x2="385.8" y2="430.40000000000003" stroke="#000" stroke-width="1.4"/>
<line x1="417.7" y1="425.8" x2="417.7" y2="430.40000000000003" stroke="#000" stroke-width="1.4"/>
<line x1="449.6" y1="425.8" x2="449.6" y2="430.40000000000003" stroke="#000" stroke-width="1.4"/>
<line x1="481.2" y1="425.8" x2="481.2" y2="430.40000000000003" stroke="#000" stroke-width="1.4"/>
<line x1="338" y1="261.2" x2="433.8" y2="261.2" stroke="#000" stroke-width="1.5"/>
<path d="M385.70 254.10 L385.70 251.60 M385.70 254.10 L388.08 253.33 M385.70 254.10 L387.17 256.12 M385.70 254.10 L384.23 256.12 M385.70 254.10 L383.32 253.33 " stroke="#000" stroke-width="1.15" stroke-linecap="round" fill="none"/>
<circle cx="385.7" cy="254.1" r="0.95" fill="#000"/>
<line x1="338" y1="274.8" x2="403.2" y2="274.8" stroke="#000" stroke-width="1.5"/>
<path d="M370.20 267.70 L370.20 265.20 M370.20 267.70 L372.58 266.93 M370.20 267.70 L371.67 269.72 M370.20 267.70 L368.73 269.72 M370.20 267.70 L367.82 266.93 " stroke="#000" stroke-width="1.15" stroke-linecap="round" fill="none"/>
<circle cx="370.2" cy="267.7" r="0.95" fill="#000"/>
<rect x="395" y="285.0" width="7.20" height="6.90" fill="#c8143a"/>
<text x="409.5" y="291.6" font-size="11.2" text-anchor="start" fill="#000" textLength="60.5" lengthAdjust="spacingAndGlyphs">30 µg/ml Fc</text>
<rect x="395" y="299.25" width="7.20" height="6.90" fill="#1a508c"/>
<text x="409.5" y="305.85" font-size="11.2" text-anchor="start" fill="#000" textLength="101" lengthAdjust="spacingAndGlyphs">10 µg/ml Fc/CLEC-2</text>
<rect x="395" y="313.5" width="7.20" height="6.90" fill="#3cb44b"/>
<text x="409.5" y="320.1" font-size="11.2" text-anchor="start" fill="#000" textLength="101" lengthAdjust="spacingAndGlyphs">30 µg/ml Fc/CLEC-2</text>
<line x1="326" y1="435.3" x2="414.6" y2="435.3" stroke="#000" stroke-width="1.5"/>
<line x1="420.4" y1="435.3" x2="479.2" y2="435.3" stroke="#000" stroke-width="1.5"/>
<text x="362.7" y="450.6" font-size="14" text-anchor="start" fill="#000" textLength="15.4" lengthAdjust="spacingAndGlyphs">WT</text>
<text x="421.8" y="450.6" font-size="13.8" text-anchor="start" fill="#000" textLength="57.5" lengthAdjust="spacingAndGlyphs">Plt <tspan font-style="italic">Clec-2</tspan><tspan font-size="9" dy="-5.5">−/−</tspan></text>
<text transform="translate(290.9,346.8) rotate(-90)" font-size="14" text-anchor="middle" fill="#000" textLength="63.5" lengthAdjust="spacingAndGlyphs">MFI of Jon/A</text>
<rect x="51" y="501" width="114.00" height="95.60" fill="#000"/>
<rect x="51" y="598.8" width="113.60" height="95.50" fill="#000"/>
<circle cx="102.7" cy="554.3" r="0.78" fill="#b0c838" opacity="0.54"/>
<circle cx="73.3" cy="577.2" r="0.85" fill="#b0c838" opacity="0.52"/>
<circle cx="62.5" cy="530.4" r="0.82" fill="#8a9a40" opacity="0.56"/>
<circle cx="123.1" cy="557.7" r="0.99" fill="#b0c838" opacity="0.46"/>
<circle cx="120.9" cy="516.7" r="0.93" fill="#8a9a40" opacity="0.23"/>
<circle cx="56.0" cy="584.2" r="0.91" fill="#8a9a40" opacity="0.33"/>
<circle cx="118.2" cy="520.3" r="0.86" fill="#a0b030" opacity="0.40"/>
<circle cx="126.2" cy="544.8" r="0.76" fill="#7a8040" opacity="0.42"/>
<circle cx="156.3" cy="509.8" r="0.73" fill="#7a8040" opacity="0.29"/>
<circle cx="84.4" cy="508.6" r="0.76" fill="#8a9a40" opacity="0.54"/>
<circle cx="95.3" cy="591.6" r="0.69" fill="#8a9a40" opacity="0.57"/>
<circle cx="57.9" cy="537.1" r="0.77" fill="#b0c838" opacity="0.43"/>
<circle cx="74.2" cy="565.1" r="0.63" fill="#7a8040" opacity="0.33"/>
<circle cx="160.0" cy="572.9" r="0.65" fill="#8a9a40" opacity="0.48"/>
<circle cx="53.2" cy="545.5" r="0.67" fill="#b0c838" opacity="0.42"/>
<circle cx="102.1" cy="519.8" r="0.77" fill="#a0b030" opacity="0.35"/>
<circle cx="96.2" cy="594.6" r="0.71" fill="#8a9a40" opacity="0.59"/>
<circle cx="142.0" cy="530.4" r="0.68" fill="#8a9a40" opacity="0.36"/>
<circle cx="147.7" cy="562.0" r="0.62" fill="#8a9a40" opacity="0.26"/>
<circle cx="101.5" cy="502.9" r="0.93" fill="#7a8040" opacity="0.35"/>
<circle cx="60.3" cy="521.5" r="0.61" fill="#a0b030" opacity="0.35"/>
<circle cx="121.7" cy="513.9" r="0.93" fill="#b0c838" opacity="0.25"/>
<circle cx="95.2" cy="560.6" r="0.96" fill="#7a8040" opacity="0.53"/>
<circle cx="79.9" cy="519.7" r="0.87" fill="#a0b030" opacity="0.36"/>
<circle cx="106.0" cy="509.3" r="0.64" fill="#8a9a40" opacity="0.22"/>
<circle cx="159.8" cy="524.3" r="0.70" fill="#b0c838" opacity="0.53"/>
<circle cx="118.8" cy="529.4" r="0.97" fill="#a0b030" opacity="0.59"/>
<circle cx="66.2" cy="546.8" r="0.71" fill="#8a9a40" opacity="0.57"/>
<circle cx="74.8" cy="503.5" r="0.76" fill="#7a8040" opacity="0.30"/>
<circle cx="57.2" cy="528.4" r="0.64" fill="#a0b030" opacity="0.26"/>
<circle cx="102.4" cy="532.9" r="0.84" fill="#a0b030" opacity="0.57"/>
<circle cx="105.2" cy="535.4" r="0.99" fill="#7a8040" opacity="0.21"/>
<circle cx="123.3" cy="547.1" r="0.73" fill="#7a8040" opacity="0.60"/>
<circle cx="60.4" cy="553.1" r="0.96" fill="#8a9a40" opacity="0.49"/>
<circle cx="130.8" cy="576.2" r="0.74" fill="#7a8040" opacity="0.47"/>
<circle cx="152.9" cy="583.4" r="0.98" fill="#b0c838" opacity="0.21"/>
<circle cx="108.0" cy="503.4" r="0.75" fill="#b0c838" opacity="0.20"/>
<circle cx="60.1" cy="510.5" r="1.00" fill="#8a9a40" opacity="0.55"/>
<circle cx="133.6" cy="538.3" r="0.78" fill="#b0c838" opacity="0.54"/>
<circle cx="61.4" cy="572.1" r="0.72" fill="#8a9a40" opacity="0.24"/>
<circle cx="54.5" cy="591.5" r="0.80" fill="#8a9a40" opacity="0.45"/>
<circle cx="155.1" cy="525.9" r="0.75" fill="#8a9a40" opacity="0.26"/>
<circle cx="120.5" cy="550.5" r="0.86" fill="#7a8040" opacity="0.38"/>
<circle cx="151.9" cy="532.6" r="0.68" fill="#7a8040" opacity="0.37"/>
<circle cx="142.3" cy="587.5" r="0.75" fill="#a0b030" opacity="0.43"/>
<circle cx="87.4" cy="514.7" r="0.74" fill="#b0c838" opacity="0.56"/>
<circle cx="56.5" cy="508.0" r="0.93" fill="#7a8040" opacity="0.25"/>
<circle cx="104.8" cy="588.6" r="0.75" fill="#b0c838" opacity="0.41"/>
<circle cx="127.3" cy="569.0" r="0.73" fill="#b0c838" opacity="0.53"/>
<circle cx="83.1" cy="558.8" r="0.83" fill="#7a8040" opacity="0.32"/>
<circle cx="140.6" cy="503.8" r="0.76" fill="#a0b030" opacity="0.28"/>
<circle cx="138.2" cy="526.9" r="0.92" fill="#a0b030" opacity="0.59"/>
<circle cx="64.9" cy="512.2" r="0.98" fill="#7a8040" opacity="0.47"/>
<circle cx="74.3" cy="546.4" r="0.89" fill="#a0b030" opacity="0.50"/>
<circle cx="111.9" cy="505.4" r="0.71" fill="#a0b030" opacity="0.34"/>
<circle cx="130.1" cy="550.7" r="0.76" fill="#a0b030" opacity="0.52"/>
<circle cx="153.5" cy="510.2" r="0.65" fill="#b0c838" opacity="0.38"/>
<circle cx="122.1" cy="587.1" r="0.82" fill="#b0c838" opacity="0.46"/>
<circle cx="108.3" cy="578.6" r="0.79" fill="#7a8040" opacity="0.46"/>
<circle cx="74.9" cy="569.5" r="0.69" fill="#8a9a40" opacity="0.56"/>
<circle cx="161.8" cy="593.4" r="0.70" fill="#7a8040" opacity="0.49"/>
<circle cx="53.8" cy="549.2" r="0.78" fill="#8a9a40" opacity="0.42"/>
<circle cx="138.0" cy="547.6" r="0.69" fill="#8a9a40" opacity="0.55"/>
<circle cx="100.0" cy="505.3" r="0.87" fill="#7a8040" opacity="0.57"/>
<circle cx="104.7" cy="595.5" r="0.98" fill="#b0c838" opacity="0.40"/>
<circle cx="158.3" cy="510.0" r="0.78" fill="#a0b030" opacity="0.42"/>
<circle cx="145.1" cy="554.5" r="0.81" fill="#a0b030" opacity="0.54"/>
<circle cx="114.7" cy="531.1" r="0.98" fill="#b0c838" opacity="0.55"/>
<circle cx="120.3" cy="530.5" r="0.99" fill="#a0b030" opacity="0.41"/>
<circle cx="116.2" cy="520.8" r="0.80" fill="#8a9a40" opacity="0.44"/>
<circle cx="55.1" cy="592.6" r="0.82" fill="#b0c838" opacity="0.60"/>
<circle cx="65.7" cy="510.7" r="0.63" fill="#a0b030" opacity="0.42"/>
<circle cx="98.3" cy="591.5" r="0.71" fill="#b0c838" opacity="0.39"/>
<circle cx="66.2" cy="542.5" r="0.81" fill="#b0c838" opacity="0.24"/>
<circle cx="99.0" cy="504.8" r="0.65" fill="#7a8040" opacity="0.51"/>
<circle cx="54.6" cy="520.1" r="0.60" fill="#a0b030" opacity="0.31"/>
<circle cx="133.0" cy="524.9" r="0.64" fill="#b0c838" opacity="0.49"/>
<circle cx="65.8" cy="549.7" r="0.89" fill="#7a8040" opacity="0.48"/>
<circle cx="150.4" cy="504.2" r="0.93" fill="#b0c838" opacity="0.45"/>
<circle cx="112.3" cy="582.8" r="0.81" fill="#a0b030" opacity="0.54"/>
<circle cx="120.5" cy="582.1" r="0.97" fill="#a0b030" opacity="0.45"/>
<circle cx="90.9" cy="518.9" r="0.96" fill="#7a8040" opacity="0.28"/>
<circle cx="139.2" cy="520.2" r="0.65" fill="#8a9a40" opacity="0.30"/>
<circle cx="133.4" cy="526.3" r="0.77" fill="#8a9a40" opacity="0.58"/>
<circle cx="112.8" cy="567.9" r="0.76" fill="#a0b030" opacity="0.47"/>
<circle cx="54.0" cy="520.8" r="0.96" fill="#7a8040" opacity="0.59"/>
<circle cx="64.9" cy="549.3" r="0.80" fill="#7a8040" opacity="0.47"/>
<circle cx="73.2" cy="508.6" r="0.61" fill="#8a9a40" opacity="0.50"/>
<circle cx="120.7" cy="586.6" r="0.66" fill="#b0c838" opacity="0.27"/>
<circle cx="74.8" cy="580.6" r="0.97" fill="#7a8040" opacity="0.24"/>
<circle cx="58.9" cy="591.0" r="0.63" fill="#b0c838" opacity="0.24"/>
<circle cx="95.8" cy="541.9" r="0.77" fill="#7a8040" opacity="0.44"/>
<circle cx="53.5" cy="567.5" r="0.67" fill="#a0b030" opacity="0.38"/>
<circle cx="134.8" cy="539.9" r="0.84" fill="#a0b030" opacity="0.24"/>
<circle cx="140.7" cy="532.3" r="0.92" fill="#8a9a40" opacity="0.48"/>
<circle cx="148.4" cy="560.8" r="0.83" fill="#b0c838" opacity="0.28"/>
<circle cx="117.5" cy="533.9" r="0.71" fill="#7a8040" opacity="0.25"/>
<circle cx="135.2" cy="517.0" r="0.65" fill="#b0c838" opacity="0.33"/>
<circle cx="112.4" cy="536.6" r="0.91" fill="#b0c838" opacity="0.36"/>
<circle cx="132.9" cy="508.6" r="0.72" fill="#7a8040" opacity="0.24"/>
<circle cx="151.5" cy="594.6" r="0.69" fill="#8a9a40" opacity="0.58"/>
<circle cx="126.6" cy="533.6" r="0.83" fill="#b0c838" opacity="0.41"/>
<circle cx="95.6" cy="595.5" r="0.88" fill="#a0b030" opacity="0.50"/>
<circle cx="161.8" cy="504.1" r="0.90" fill="#8a9a40" opacity="0.30"/>
<circle cx="97.0" cy="506.7" r="0.86" fill="#a0b030" opacity="0.20"/>
<circle cx="81.0" cy="527.8" r="0.82" fill="#7a8040" opacity="0.40"/>
<circle cx="160.3" cy="555.1" r="0.86" fill="#8a9a40" opacity="0.52"/>
<circle cx="60.5" cy="557.9" r="0.75" fill="#8a9a40" opacity="0.58"/>
<circle cx="95.2" cy="592.7" r="0.82" fill="#b0c838" opacity="0.44"/>
<circle cx="100.1" cy="548.2" r="0.81" fill="#7a8040" opacity="0.44"/>
<circle cx="92.9" cy="528.7" r="0.82" fill="#7a8040" opacity="0.31"/>
<circle cx="132.3" cy="529.7" r="0.91" fill="#8a9a40" opacity="0.43"/>
<circle cx="122.9" cy="540.2" r="0.62" fill="#b0c838" opacity="0.33"/>
<circle cx="96.6" cy="556.4" r="0.63" fill="#7a8040" opacity="0.56"/>
<circle cx="100.1" cy="546.7" r="0.62" fill="#a0b030" opacity="0.24"/>
<circle cx="142.7" cy="587.0" r="0.99" fill="#a0b030" opacity="0.53"/>
<circle cx="119.6" cy="512.8" r="0.78" fill="#b0c838" opacity="0.28"/>
<circle cx="57.8" cy="551.4" r="0.75" fill="#8a9a40" opacity="0.26"/>
<circle cx="98.7" cy="558.2" r="0.75" fill="#b0c838" opacity="0.50"/>
<circle cx="143.3" cy="514.8" r="0.89" fill="#7a8040" opacity="0.30"/>
<circle cx="64.8" cy="585.5" r="0.71" fill="#7a8040" opacity="0.44"/>
<circle cx="133.2" cy="567.4" r="0.85" fill="#a0b030" opacity="0.50"/>
<circle cx="73.3" cy="525.3" r="0.95" fill="#a0b030" opacity="0.22"/>
<circle cx="58.8" cy="527.3" r="0.61" fill="#b0c838" opacity="0.22"/>
<circle cx="76.9" cy="528.0" r="0.97" fill="#8a9a40" opacity="0.26"/>
<circle cx="78.3" cy="593.8" r="0.79" fill="#b0c838" opacity="0.28"/>
<circle cx="90.5" cy="571.6" r="0.92" fill="#8a9a40" opacity="0.38"/>
<circle cx="144.1" cy="580.4" r="0.78" fill="#a0b030" opacity="0.50"/>
<circle cx="95.7" cy="516.1" r="0.86" fill="#a0b030" opacity="0.60"/>
<circle cx="88.4" cy="553.3" r="0.77" fill="#a0b030" opacity="0.35"/>
<circle cx="62.9" cy="583.8" r="0.82" fill="#8a9a40" opacity="0.37"/>
<circle cx="115.6" cy="578.2" r="0.72" fill="#b0c838" opacity="0.51"/>
<circle cx="60.5" cy="521.9" r="0.88" fill="#8a9a40" opacity="0.40"/>
<circle cx="137.6" cy="532.7" r="0.69" fill="#a0b030" opacity="0.46"/>
<circle cx="88.6" cy="586.7" r="0.88" fill="#7a8040" opacity="0.43"/>
<circle cx="154.9" cy="589.9" r="0.78" fill="#7a8040" opacity="0.52"/>
<circle cx="86.1" cy="531.7" r="0.99" fill="#b0c838" opacity="0.49"/>
<circle cx="109.8" cy="509.9" r="0.61" fill="#7a8040" opacity="0.47"/>
<circle cx="117.5" cy="576.4" r="0.92" fill="#7a8040" opacity="0.42"/>
<circle cx="145.7" cy="554.6" r="0.64" fill="#a0b030" opacity="0.38"/>
<circle cx="147.7" cy="577.9" r="0.81" fill="#a0b030" opacity="0.42"/>
<circle cx="115.6" cy="592.4" r="0.63" fill="#b0c838" opacity="0.42"/>
<circle cx="140.3" cy="509.9" r="0.71" fill="#8a9a40" opacity="0.24"/>
<circle cx="87.1" cy="504.4" r="0.64" fill="#a0b030" opacity="0.53"/>
<circle cx="99.3" cy="568.6" r="0.91" fill="#b0c838" opacity="0.41"/>
<circle cx="137.6" cy="538.9" r="0.92" fill="#7a8040" opacity="0.33"/>
<circle cx="67.3" cy="547.6" r="0.88" fill="#8a9a40" opacity="0.57"/>
<circle cx="98.0" cy="579.3" r="0.94" fill="#7a8040" opacity="0.52"/>
<circle cx="145.4" cy="585.1" r="0.81" fill="#8a9a40" opacity="0.48"/>
<circle cx="141.9" cy="541.4" r="0.97" fill="#b0c838" opacity="0.30"/>
<circle cx="70.2" cy="561.4" r="0.73" fill="#a0b030" opacity="0.36"/>
<circle cx="111.3" cy="527.6" r="0.79" fill="#8a9a40" opacity="0.49"/>
<circle cx="86.0" cy="516.5" r="0.96" fill="#a0b030" opacity="0.50"/>
<circle cx="53.9" cy="547.0" r="0.73" fill="#8a9a40" opacity="0.28"/>
<circle cx="92.2" cy="557.0" r="0.84" fill="#b0c838" opacity="0.29"/>
<circle cx="72.7" cy="528.3" r="0.96" fill="#a0b030" opacity="0.57"/>
<circle cx="122.2" cy="590.1" r="0.94" fill="#b0c838" opacity="0.39"/>
<circle cx="97.1" cy="591.4" r="0.79" fill="#8a9a40" opacity="0.29"/>
<circle cx="57.6" cy="590.6" r="0.99" fill="#b0c838" opacity="0.52"/>
<circle cx="138.7" cy="575.6" r="0.86" fill="#8a9a40" opacity="0.30"/>
<circle cx="53.2" cy="546.2" r="0.78" fill="#7a8040" opacity="0.30"/>
<circle cx="99.2" cy="583.8" r="0.66" fill="#b0c838" opacity="0.33"/>
<circle cx="81.1" cy="583.3" r="0.85" fill="#a0b030" opacity="0.60"/>
<circle cx="81.8" cy="552.0" r="0.83" fill="#a0b030" opacity="0.27"/>
<circle cx="74.9" cy="587.7" r="0.93" fill="#a0b030" opacity="0.23"/>
<circle cx="82.2" cy="569.0" r="0.96" fill="#8a9a40" opacity="0.48"/>
<circle cx="61.3" cy="572.0" r="0.61" fill="#7a8040" opacity="0.28"/>
<circle cx="73.6" cy="565.8" r="0.68" fill="#b0c838" opacity="0.42"/>
<circle cx="110.9" cy="516.7" r="0.73" fill="#7a8040" opacity="0.36"/>
<circle cx="114.3" cy="595.2" r="0.74" fill="#8a9a40" opacity="0.47"/>
<circle cx="63.8" cy="538.9" r="0.90" fill="#b0c838" opacity="0.51"/>
<circle cx="65.7" cy="543.6" r="0.88" fill="#b0c838" opacity="0.39"/>
<circle cx="84.9" cy="512.6" r="0.94" fill="#8a9a40" opacity="0.54"/>
<circle cx="132.6" cy="586.3" r="0.72" fill="#a0b030" opacity="0.35"/>
<circle cx="112.5" cy="529.9" r="0.90" fill="#7a8040" opacity="0.42"/>
<circle cx="61.7" cy="519.6" r="0.89" fill="#b0c838" opacity="0.33"/>
<circle cx="157.8" cy="554.6" r="0.78" fill="#7a8040" opacity="0.35"/>
<circle cx="63.4" cy="560.1" r="0.87" fill="#a0b030" opacity="0.48"/>
<circle cx="72.1" cy="539.6" r="0.84" fill="#b0c838" opacity="0.24"/>
<circle cx="77.4" cy="516.7" r="0.77" fill="#8a9a40" opacity="0.51"/>
<circle cx="90.3" cy="579.0" r="0.86" fill="#a0b030" opacity="0.51"/>
<circle cx="144.0" cy="538.1" r="0.97" fill="#7a8040" opacity="0.45"/>
<circle cx="133.4" cy="559.3" r="0.99" fill="#7a8040" opacity="0.52"/>
<circle cx="125.9" cy="558.9" r="0.70" fill="#8a9a40" opacity="0.28"/>
<circle cx="86.4" cy="543.3" r="0.68" fill="#b0c838" opacity="0.33"/>
<circle cx="84.9" cy="511.6" r="0.70" fill="#a0b030" opacity="0.42"/>
<circle cx="85.4" cy="523.9" r="0.83" fill="#a0b030" opacity="0.28"/>
<circle cx="156.6" cy="595.3" r="0.83" fill="#a0b030" opacity="0.21"/>
<circle cx="125.9" cy="574.6" r="0.70" fill="#a0b030" opacity="0.43"/>
<circle cx="130.1" cy="532.8" r="0.71" fill="#7a8040" opacity="0.55"/>
<circle cx="102.7" cy="570.2" r="0.96" fill="#a0b030" opacity="0.42"/>
<circle cx="114.8" cy="554.4" r="0.67" fill="#7a8040" opacity="0.50"/>
<circle cx="152.5" cy="533.3" r="0.65" fill="#a0b030" opacity="0.53"/>
<circle cx="84.3" cy="585.9" r="0.90" fill="#a0b030" opacity="0.35"/>
<circle cx="70.6" cy="557.9" r="0.78" fill="#8a9a40" opacity="0.36"/>
<circle cx="139.7" cy="588.9" r="0.72" fill="#a0b030" opacity="0.47"/>
<circle cx="134.6" cy="537.7" r="0.66" fill="#8a9a40" opacity="0.36"/>
<circle cx="55.7" cy="551.4" r="0.83" fill="#8a9a40" opacity="0.27"/>
<circle cx="110.2" cy="526.7" r="0.62" fill="#7a8040" opacity="0.51"/>
<circle cx="132.8" cy="575.6" r="0.98" fill="#b0c838" opacity="0.44"/>
<circle cx="104.6" cy="540.5" r="0.90" fill="#b0c838" opacity="0.39"/>
<circle cx="163.4" cy="580.4" r="0.93" fill="#b0c838" opacity="0.25"/>
<circle cx="64.8" cy="589.8" r="0.81" fill="#7a8040" opacity="0.37"/>
<circle cx="153.3" cy="532.0" r="0.72" fill="#8a9a40" opacity="0.45"/>
<circle cx="100.5" cy="537.2" r="0.90" fill="#7a8040" opacity="0.32"/>
<circle cx="118.5" cy="508.5" r="0.94" fill="#8a9a40" opacity="0.30"/>
<circle cx="149.8" cy="592.9" r="0.88" fill="#b0c838" opacity="0.41"/>
<circle cx="78.8" cy="530.6" r="0.98" fill="#b0c838" opacity="0.55"/>
<circle cx="163.9" cy="570.3" r="0.95" fill="#7a8040" opacity="0.37"/>
<circle cx="142.2" cy="522.7" r="0.83" fill="#b0c838" opacity="0.56"/>
<circle cx="63.0" cy="576.1" r="0.95" fill="#8a9a40" opacity="0.43"/>
<circle cx="102.8" cy="529.7" r="0.61" fill="#7a8040" opacity="0.27"/>
<circle cx="101.4" cy="544.1" r="0.66" fill="#b0c838" opacity="0.48"/>
<circle cx="77.8" cy="530.6" r="0.96" fill="#b0c838" opacity="0.32"/>
<circle cx="107.8" cy="589.3" r="0.95" fill="#b0c838" opacity="0.28"/>
<circle cx="148.2" cy="566.8" r="0.68" fill="#8a9a40" opacity="0.54"/>
<circle cx="91.7" cy="546.2" r="0.85" fill="#a0b030" opacity="0.48"/>
<circle cx="114.7" cy="551.8" r="0.68" fill="#a0b030" opacity="0.55"/>
<circle cx="57.6" cy="511.9" r="0.98" fill="#7a8040" opacity="0.31"/>
<circle cx="99.1" cy="584.2" r="0.88" fill="#7a8040" opacity="0.58"/>
<circle cx="101.9" cy="509.4" r="0.94" fill="#a0b030" opacity="0.25"/>
<circle cx="129.4" cy="527.1" r="0.80" fill="#a0b030" opacity="0.32"/>
<circle cx="82.6" cy="577.1" r="0.84" fill="#8a9a40" opacity="0.29"/>
<circle cx="85.7" cy="588.7" r="0.71" fill="#a0b030" opacity="0.46"/>
<circle cx="62.1" cy="593.9" r="0.97" fill="#b0c838" opacity="0.23"/>
<circle cx="153.6" cy="502.7" r="0.81" fill="#7a8040" opacity="0.37"/>
<circle cx="115.7" cy="517.4" r="0.70" fill="#a0b030" opacity="0.31"/>
<circle cx="113.4" cy="519.4" r="1.00" fill="#a0b030" opacity="0.21"/>
<circle cx="103.7" cy="572.2" r="0.60" fill="#b0c838" opacity="0.56"/>
<circle cx="58.7" cy="508.0" r="0.73" fill="#7a8040" opacity="0.39"/>
<circle cx="120.3" cy="550.0" r="0.93" fill="#a8d828" opacity="0.64"/>
<circle cx="127.8" cy="548.0" r="0.81" fill="#a8d828" opacity="0.62"/>
<circle cx="113.6" cy="546.1" r="0.77" fill="#a8d828" opacity="0.65"/>
<circle cx="106.4" cy="547.6" r="0.89" fill="#a8d828" opacity="0.67"/>
<circle cx="112.3" cy="556.5" r="0.94" fill="#a8d828" opacity="0.62"/>
<circle cx="112.6" cy="553.0" r="0.99" fill="#a8d828" opacity="0.37"/>
<circle cx="95.4" cy="552.9" r="0.73" fill="#a8d828" opacity="0.62"/>
<circle cx="100.3" cy="542.1" r="0.80" fill="#a8d828" opacity="0.68"/>
<circle cx="114.4" cy="547.8" r="0.65" fill="#a8d828" opacity="0.43"/>
<circle cx="105.4" cy="542.9" r="0.89" fill="#a8d828" opacity="0.63"/>
<circle cx="121.9" cy="551.1" r="0.88" fill="#a8d828" opacity="0.72"/>
<circle cx="111.9" cy="538.6" r="0.91" fill="#a8d828" opacity="0.57"/>
<circle cx="106.7" cy="543.2" r="0.75" fill="#a8d828" opacity="0.46"/>
<circle cx="99.8" cy="549.2" r="0.84" fill="#a8d828" opacity="0.55"/>
<circle cx="108.9" cy="555.2" r="0.88" fill="#a8d828" opacity="0.67"/>
<circle cx="117.5" cy="548.2" r="0.90" fill="#a8d828" opacity="0.62"/>
<circle cx="122.9" cy="556.4" r="0.81" fill="#a8d828" opacity="0.79"/>
<circle cx="122.2" cy="549.1" r="0.81" fill="#a8d828" opacity="0.39"/>
<circle cx="103.5" cy="546.7" r="0.97" fill="#a8d828" opacity="0.79"/>
<circle cx="106.9" cy="540.4" r="0.99" fill="#a8d828" opacity="0.63"/>
<circle cx="111.7" cy="551.9" r="0.94" fill="#a8d828" opacity="0.54"/>
<circle cx="118.5" cy="551.2" r="0.72" fill="#a8d828" opacity="0.78"/>
<circle cx="118.6" cy="547.0" r="0.66" fill="#a8d828" opacity="0.61"/>
<circle cx="127.7" cy="548.7" r="0.83" fill="#a8d828" opacity="0.76"/>
<circle cx="128.3" cy="540.0" r="0.67" fill="#a8d828" opacity="0.74"/>
<circle cx="118.7" cy="547.4" r="0.75" fill="#a8d828" opacity="0.37"/>
<circle cx="107.1" cy="551.2" r="0.92" fill="#a8d828" opacity="0.71"/>
<circle cx="104.0" cy="549.8" r="0.84" fill="#a8d828" opacity="0.69"/>
<circle cx="102.7" cy="550.2" r="0.85" fill="#a8d828" opacity="0.43"/>
<circle cx="101.8" cy="549.6" r="0.77" fill="#a8d828" opacity="0.37"/>
<circle cx="109.4" cy="563.4" r="0.85" fill="#a8d828" opacity="0.58"/>
<circle cx="112.4" cy="541.8" r="0.83" fill="#a8d828" opacity="0.64"/>
<circle cx="113.9" cy="551.7" r="0.62" fill="#a8d828" opacity="0.68"/>
<circle cx="113.8" cy="545.8" r="0.70" fill="#a8d828" opacity="0.73"/>
<circle cx="136.2" cy="563.4" r="0.94" fill="#a8d828" opacity="0.55"/>
<ellipse cx="116" cy="553.5" rx="3" ry="2.2" fill="#b8ee30" opacity="0.9"/>
<ellipse cx="121.8" cy="556" rx="1.2" ry="2" fill="#b8ee30" opacity="0.9"/>
<ellipse cx="127.4" cy="557.5" rx="1.1" ry="1.6" fill="#b8ee30" opacity="0.9"/>
<ellipse cx="112" cy="542" rx="1" ry="0.9" fill="#b8ee30" opacity="0.9"/>
<ellipse cx="107.5" cy="547" rx="1" ry="0.9" fill="#b8ee30" opacity="0.9"/>
<ellipse cx="102.5" cy="550.2" rx="0.9" ry="0.9" fill="#b8ee30" opacity="0.9"/>
<ellipse cx="118" cy="551" rx="1.2" ry="1" fill="#b8ee30" opacity="0.9"/>
<ellipse cx="65.8" cy="532.4" rx="3.0" ry="1.4" transform="rotate(-25 65.8 532.4)" fill="#a8f020"/>
<circle cx="147.7" cy="635.5" r="0.77" fill="#a0a830" opacity="0.38"/>
<circle cx="58.1" cy="636.6" r="0.67" fill="#8a9040" opacity="0.27"/>
<circle cx="109.6" cy="611.9" r="0.61" fill="#8a9040" opacity="0.35"/>
<circle cx="112.9" cy="612.6" r="0.69" fill="#706838" opacity="0.31"/>
<circle cx="102.6" cy="635.1" r="0.79" fill="#8a9040" opacity="0.39"/>
<circle cx="102.3" cy="612.7" r="0.80" fill="#706838" opacity="0.28"/>
<circle cx="84.7" cy="632.1" r="0.55" fill="#8a9040" opacity="0.50"/>
<circle cx="135.7" cy="644.9" r="0.78" fill="#8a9040" opacity="0.54"/>
<circle cx="85.4" cy="662.4" r="0.70" fill="#8a9040" opacity="0.32"/>
<circle cx="65.7" cy="672.0" r="0.58" fill="#a0a830" opacity="0.42"/>
<circle cx="62.1" cy="639.8" r="0.67" fill="#a0a830" opacity="0.37"/>
<circle cx="156.2" cy="626.5" r="0.60" fill="#706838" opacity="0.26"/>
<circle cx="97.1" cy="644.2" r="0.62" fill="#8a9040" opacity="0.45"/>
<circle cx="110.3" cy="669.1" r="0.78" fill="#a0a830" opacity="0.37"/>
<circle cx="80.8" cy="679.3" r="0.75" fill="#a0a830" opacity="0.21"/>
<circle cx="95.8" cy="633.9" r="0.82" fill="#8a9040" opacity="0.30"/>
<circle cx="94.2" cy="678.8" r="0.66" fill="#a0a830" opacity="0.31"/>
<circle cx="80.4" cy="602.2" r="0.61" fill="#a0a830" opacity="0.33"/>
<circle cx="85.3" cy="675.8" r="0.72" fill="#8a9040" opacity="0.33"/>
<circle cx="90.2" cy="683.5" r="0.70" fill="#8a9040" opacity="0.53"/>
<circle cx="138.4" cy="658.3" r="0.69" fill="#706838" opacity="0.41"/>
<circle cx="59.1" cy="606.4" r="0.81" fill="#a0a830" opacity="0.33"/>
<circle cx="153.9" cy="603.5" r="0.74" fill="#8a9040" opacity="0.30"/>
<circle cx="107.4" cy="644.0" r="0.55" fill="#8a9040" opacity="0.27"/>
<circle cx="77.6" cy="663.3" r="0.68" fill="#8a9040" opacity="0.52"/>
<circle cx="161.7" cy="600.3" r="0.67" fill="#706838" opacity="0.43"/>
<circle cx="113.4" cy="658.1" r="0.81" fill="#706838" opacity="0.44"/>
<circle cx="141.2" cy="624.6" r="0.81" fill="#8a9040" opacity="0.31"/>
<circle cx="132.2" cy="664.7" r="0.55" fill="#706838" opacity="0.27"/>
<circle cx="70.0" cy="631.0" r="0.67" fill="#706838" opacity="0.40"/>
<circle cx="93.4" cy="626.6" r="0.73" fill="#706838" opacity="0.37"/>
<circle cx="124.4" cy="633.7" r="0.56" fill="#706838" opacity="0.38"/>
<circle cx="66.1" cy="605.9" r="0.79" fill="#8a9040" opacity="0.51"/>
<circle cx="86.7" cy="679.0" r="0.77" fill="#706838" opacity="0.37"/>
<circle cx="70.2" cy="680.6" r="0.52" fill="#a0a830" opacity="0.29"/>
<circle cx="108.8" cy="674.1" r="0.59" fill="#a0a830" opacity="0.42"/>
<circle cx="93.2" cy="663.5" r="0.62" fill="#8a9040" opacity="0.47"/>
<circle cx="146.4" cy="677.1" r="0.84" fill="#706838" opacity="0.42"/>
<circle cx="66.1" cy="668.8" r="0.78" fill="#a0a830" opacity="0.24"/>
<circle cx="94.2" cy="662.3" r="0.73" fill="#8a9040" opacity="0.54"/>
<circle cx="104.8" cy="664.5" r="0.59" fill="#8a9040" opacity="0.29"/>
<circle cx="80.2" cy="661.9" r="0.83" fill="#a0a830" opacity="0.55"/>
<circle cx="57.5" cy="666.3" r="0.80" fill="#8a9040" opacity="0.27"/>
<circle cx="91.9" cy="650.1" r="0.64" fill="#8a9040" opacity="0.52"/>
<circle cx="145.3" cy="679.6" r="0.63" fill="#8a9040" opacity="0.31"/>
<circle cx="141.7" cy="678.0" r="0.58" fill="#a0a830" opacity="0.45"/>
<circle cx="97.7" cy="613.2" r="0.64" fill="#706838" opacity="0.44"/>
<circle cx="113.1" cy="674.4" r="0.65" fill="#8a9040" opacity="0.49"/>
<circle cx="114.3" cy="683.4" r="0.65" fill="#a0a830" opacity="0.25"/>
<circle cx="151.1" cy="625.1" r="0.55" fill="#706838" opacity="0.42"/>
<circle cx="82.7" cy="621.2" r="0.57" fill="#a0a830" opacity="0.39"/>
<circle cx="114.6" cy="614.1" r="0.81" fill="#8a9040" opacity="0.31"/>
<circle cx="60.8" cy="617.0" r="0.55" fill="#a0a830" opacity="0.48"/>
<circle cx="163.1" cy="638.0" r="0.65" fill="#8a9040" opacity="0.48"/>
<circle cx="96.3" cy="605.4" r="0.72" fill="#706838" opacity="0.49"/>
<circle cx="80.3" cy="617.5" r="0.80" fill="#a0a830" opacity="0.55"/>
<circle cx="101.6" cy="677.5" r="0.52" fill="#706838" opacity="0.50"/>
<circle cx="157.8" cy="650.1" r="0.53" fill="#706838" opacity="0.33"/>
<circle cx="136.4" cy="628.8" r="0.66" fill="#706838" opacity="0.51"/>
<circle cx="59.1" cy="633.9" r="0.59" fill="#706838" opacity="0.29"/>
<circle cx="155.5" cy="646.0" r="0.78" fill="#a0a830" opacity="0.49"/>
<circle cx="138.0" cy="691.7" r="0.83" fill="#8a9040" opacity="0.37"/>
<circle cx="146.1" cy="638.0" r="0.51" fill="#706838" opacity="0.40"/>
<circle cx="77.4" cy="636.1" r="0.68" fill="#a0a830" opacity="0.30"/>
<circle cx="163.1" cy="658.3" r="0.62" fill="#a0a830" opacity="0.30"/>
<circle cx="153.4" cy="629.9" r="0.59" fill="#8a9040" opacity="0.27"/>
<circle cx="72.2" cy="604.4" r="0.69" fill="#8a9040" opacity="0.44"/>
<circle cx="71.9" cy="609.8" r="0.63" fill="#8a9040" opacity="0.26"/>
<circle cx="54.5" cy="637.2" r="0.64" fill="#8a9040" opacity="0.31"/>
<circle cx="112.2" cy="688.6" r="0.51" fill="#8a9040" opacity="0.26"/>
<circle cx="59.4" cy="654.8" r="0.85" fill="#706838" opacity="0.35"/>
<circle cx="159.8" cy="620.4" r="0.77" fill="#a0a830" opacity="0.51"/>
<circle cx="143.0" cy="606.5" r="0.83" fill="#a0a830" opacity="0.31"/>
<circle cx="72.5" cy="633.2" r="0.55" fill="#8a9040" opacity="0.42"/>
<circle cx="94.3" cy="659.9" r="0.72" fill="#8a9040" opacity="0.32"/>
<circle cx="101.2" cy="666.4" r="0.68" fill="#a0a830" opacity="0.40"/>
<circle cx="64.8" cy="677.9" r="0.76" fill="#706838" opacity="0.35"/>
<circle cx="104.3" cy="677.8" r="0.58" fill="#706838" opacity="0.41"/>
<circle cx="116.1" cy="647.9" r="0.68" fill="#8a9040" opacity="0.36"/>
<circle cx="83.8" cy="604.3" r="0.83" fill="#8a9040" opacity="0.25"/>
<circle cx="104.5" cy="692.3" r="0.72" fill="#706838" opacity="0.27"/>
<circle cx="104.5" cy="651.3" r="0.80" fill="#8a9040" opacity="0.24"/>
<circle cx="162.9" cy="645.7" r="0.57" fill="#8a9040" opacity="0.52"/>
<circle cx="140.5" cy="613.2" r="0.78" fill="#8a9040" opacity="0.38"/>
<circle cx="163.3" cy="606.0" r="0.75" fill="#8a9040" opacity="0.29"/>
<circle cx="142.4" cy="642.2" r="0.51" fill="#706838" opacity="0.35"/>
<circle cx="106.8" cy="689.4" r="0.53" fill="#8a9040" opacity="0.39"/>
<circle cx="140.2" cy="645.6" r="0.53" fill="#8a9040" opacity="0.37"/>
<circle cx="58.3" cy="680.9" r="0.78" fill="#8a9040" opacity="0.25"/>
<circle cx="93.0" cy="609.3" r="0.83" fill="#8a9040" opacity="0.53"/>
<circle cx="76.6" cy="626.8" r="0.56" fill="#a0a830" opacity="0.34"/>
<circle cx="147.1" cy="657.4" r="0.53" fill="#a0a830" opacity="0.55"/>
<circle cx="75.2" cy="658.5" r="0.84" fill="#706838" opacity="0.40"/>
<circle cx="163.4" cy="635.2" r="0.74" fill="#a0a830" opacity="0.50"/>
<circle cx="157.9" cy="661.2" r="0.74" fill="#8a9040" opacity="0.26"/>
<circle cx="66.3" cy="664.5" r="0.51" fill="#a0a830" opacity="0.30"/>
<circle cx="81.0" cy="632.0" r="0.63" fill="#706838" opacity="0.27"/>
<circle cx="163.4" cy="664.3" r="0.75" fill="#706838" opacity="0.50"/>
<circle cx="138.2" cy="618.6" r="0.72" fill="#8a9040" opacity="0.35"/>
<circle cx="143.9" cy="638.0" r="0.55" fill="#a0a830" opacity="0.24"/>
<circle cx="62.6" cy="647.8" r="0.58" fill="#a0a830" opacity="0.40"/>
<circle cx="83.9" cy="681.2" r="0.83" fill="#a0a830" opacity="0.23"/>
<circle cx="124.6" cy="621.0" r="0.64" fill="#a0a830" opacity="0.46"/>
<circle cx="119.3" cy="641.7" r="0.63" fill="#8a9040" opacity="0.32"/>
<circle cx="117.4" cy="661.2" r="0.60" fill="#a0a830" opacity="0.44"/>
<circle cx="127.3" cy="622.8" r="0.63" fill="#a0a830" opacity="0.41"/>
<circle cx="149.0" cy="636.1" r="0.62" fill="#a0a830" opacity="0.49"/>
<circle cx="147.2" cy="654.9" r="0.73" fill="#706838" opacity="0.36"/>
<circle cx="75.4" cy="673.5" r="0.63" fill="#8a9040" opacity="0.45"/>
<circle cx="126.9" cy="632.0" r="0.73" fill="#8a9040" opacity="0.25"/>
<line x1="119.3" y1="690.9" x2="158.3" y2="690.9" stroke="#fff" stroke-width="1.3"/>
<text x="120.2" y="686.7" font-size="11.4" text-anchor="start" fill="#fff" textLength="38.2" lengthAdjust="spacingAndGlyphs">100 µm</text>
<text transform="translate(46.2,548.4) rotate(-90)" font-size="14.2" text-anchor="middle" fill="#000" textLength="14.5" lengthAdjust="spacingAndGlyphs">Fc</text>
<text transform="translate(46.9,648.5) rotate(-90)" font-size="14.2" text-anchor="middle" fill="#000" textLength="80.5" lengthAdjust="spacingAndGlyphs">Fc/CLEC-2</text>
<line x1="332.9" y1="515.2" x2="332.9" y2="681.1" stroke="#000" stroke-width="1.4"/>
<line x1="328.5" y1="676.8" x2="332.9" y2="676.8" stroke="#000" stroke-width="1.4"/>
<text x="324.2" y="680.4" font-size="12" text-anchor="end" fill="#000">0</text>
<line x1="328.5" y1="645.6999999999999" x2="332.9" y2="645.6999999999999" stroke="#000" stroke-width="1.4"/>
<text x="324.2" y="649.3" font-size="12" text-anchor="end" fill="#000">1</text>
<line x1="328.5" y1="614.5999999999999" x2="332.9" y2="614.5999999999999" stroke="#000" stroke-width="1.4"/>
<text x="324.2" y="618.1999999999999" font-size="12" text-anchor="end" fill="#000">2</text>
<line x1="328.5" y1="583.5" x2="332.9" y2="583.5" stroke="#000" stroke-width="1.4"/>
<text x="324.2" y="587.1" font-size="12" text-anchor="end" fill="#000">3</text>
<line x1="328.5" y1="552.4" x2="332.9" y2="552.4" stroke="#000" stroke-width="1.4"/>
<text x="324.2" y="556.0" font-size="12" text-anchor="end" fill="#000">4</text>
<line x1="328.5" y1="521.3" x2="332.9" y2="521.3" stroke="#000" stroke-width="1.4"/>
<text x="324.2" y="524.9" font-size="12" text-anchor="end" fill="#000">5</text>
<rect x="342" y="537.1" width="16.80" height="139.70" fill="#c8143a"/>
<line x1="350.4" y1="529.6" x2="350.4" y2="538" stroke="#000" stroke-width="1.5"/>
<line x1="345.4" y1="529.6" x2="355.4" y2="529.6" stroke="#000" stroke-width="1.6"/>
<rect x="376.1" y="651.7" width="16.80" height="25.10" fill="#1a508c"/>
<line x1="384.5" y1="635.9" x2="384.5" y2="652.5" stroke="#000" stroke-width="1.5"/>
<line x1="379.5" y1="635.9" x2="389.5" y2="635.9" stroke="#000" stroke-width="1.6"/>
<line x1="328.5" y1="676.8" x2="406.4" y2="676.8" stroke="#000" stroke-width="1.4"/>
<line x1="368.1" y1="676.8" x2="368.1" y2="681.1" stroke="#000" stroke-width="1.4"/>
<line x1="402.1" y1="676.8" x2="402.1" y2="681.1" stroke="#000" stroke-width="1.4"/>
<line x1="350.8" y1="524.7" x2="384.8" y2="524.7" stroke="#000" stroke-width="1.5"/>
<path d="M367.20 517.60 L367.20 515.10 M367.20 517.60 L369.58 516.83 M367.20 517.60 L368.67 519.62 M367.20 517.60 L365.73 519.62 M367.20 517.60 L364.82 516.83 " stroke="#000" stroke-width="1.15" stroke-linecap="round" fill="none"/>
<circle cx="367.2" cy="517.6" r="0.95" fill="#000"/>
<rect x="401.2" y="532.1" width="7.50" height="7.30" fill="#c8143a"/>
<rect x="401.2" y="546.3" width="7.50" height="7.40" fill="#1a508c"/>
<text x="415.1" y="539.2" font-size="11.4" text-anchor="start" fill="#000" textLength="11.2" lengthAdjust="spacingAndGlyphs">Fc</text>
<text x="415.1" y="553.4" font-size="11.4" text-anchor="start" fill="#000" textLength="53" lengthAdjust="spacingAndGlyphs">Fc/CLEC-2</text>
<text transform="translate(291.1,595.1) rotate(-90)" font-size="13.6" text-anchor="middle" fill="#000" textLength="93" lengthAdjust="spacingAndGlyphs">Adherent platelets</text>
<text transform="translate(307.6,595.1) rotate(-90)" font-size="13.6" text-anchor="middle" fill="#000" textLength="91.5" lengthAdjust="spacingAndGlyphs">(pixel, ×10<tspan font-size="9" dy="-5">3</tspan><tspan dy="5">/field)</tspan></text>
<path d="M0.85 0 V705 M0 0.9 H520 M519 0 V705 M0 704 H520" stroke="#000" stroke-width="2" fill="none"/>
</svg>
</body></html>
